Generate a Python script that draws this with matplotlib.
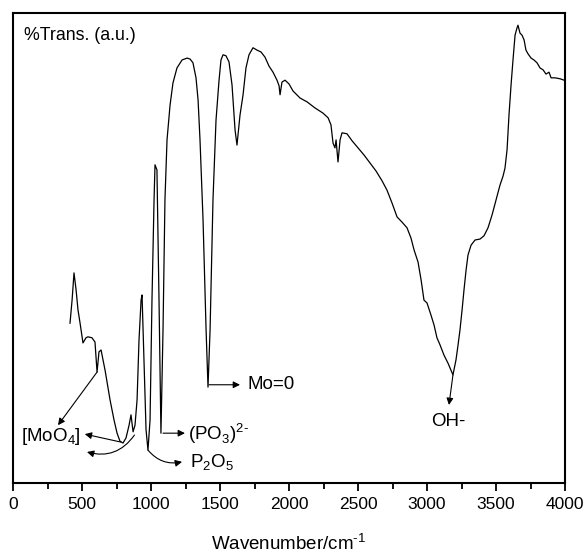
import numpy as np
import matplotlib.pyplot as plt
from matplotlib.ticker import MultipleLocator

# FTIR spectrum (wavenumber in cm-1, transmittance a.u.)
wavenumber = [
    413, 428, 442, 457, 471, 486, 507, 529, 543, 572, 594, 609, 623, 638, 667,
    703, 732, 754, 775, 797, 819, 841, 855, 870, 884, 899, 913, 928, 935, 949,
    964, 978, 993, 1007, 1022, 1029, 1043, 1058, 1072, 1087, 1101, 1116, 1138,
    1159, 1188, 1225, 1261, 1283, 1304, 1326, 1341, 1355, 1377, 1399, 1413,
    1428, 1449, 1471, 1493, 1507, 1522, 1543, 1565, 1587, 1609, 1623, 1645,
    1667, 1688, 1710, 1739, 1768, 1797, 1826, 1855, 1884, 1913, 1928, 1935,
    1949, 1971, 2000, 2029, 2080, 2130, 2188, 2246, 2283, 2304, 2319, 2333,
    2341, 2355, 2370, 2384, 2420, 2457, 2500, 2543, 2587, 2630, 2674, 2710,
    2746, 2783, 2819, 2855, 2884, 2906, 2935, 2957, 2978, 3000, 3029, 3051,
    3072, 3094, 3123, 3152, 3174, 3188, 3210, 3225, 3239, 3254, 3268, 3283,
    3297, 3319, 3348, 3384, 3413, 3442, 3471, 3500, 3529, 3551, 3565, 3580,
    3594, 3609, 3623, 3638, 3652, 3659, 3674, 3688, 3703, 3717, 3732, 3754,
    3775, 3797, 3819, 3841, 3862, 3884, 3899, 3928, 3964, 3993,
]
transmittance = [
    34.0, 38.9, 44.7, 41.1, 36.8, 34.0, 29.8, 30.9, 31.1, 30.9, 30.0, 23.6,
    27.9, 28.3, 24.0, 17.7, 13.4, 10.6, 8.9, 8.5, 9.6, 12.3, 14.5, 10.9, 12.3,
    17.7, 30.4, 38.9, 40.0, 26.2, 11.3, 7.0, 13.4, 38.9, 60.2, 67.7, 66.6,
    38.9, 10.6, 32.6, 60.2, 73.0, 80.4, 85.1, 88.3, 90.0, 90.4, 90.2, 89.4,
    86.2, 81.5, 73.0, 56.0, 32.6, 20.4, 32.6, 60.2, 77.2, 85.7, 90.0, 91.1,
    90.9, 89.6, 84.7, 75.1, 71.9, 78.3, 82.6, 88.3, 91.1, 92.6, 92.1, 91.7,
    90.6, 88.7, 87.4, 85.7, 84.5, 82.6, 85.3, 85.7, 84.9, 83.4, 81.9, 81.1,
    79.8, 78.7, 77.7, 76.2, 72.3, 71.3, 73.0, 68.3, 73.0, 74.5, 74.3, 72.8,
    71.3, 69.8, 68.1, 66.4, 64.3, 62.3, 59.6, 56.6, 55.5, 54.3, 52.1, 49.6,
    47.0, 43.2, 38.9, 38.3, 35.7, 33.6, 30.9, 29.4, 27.2, 25.5, 24.0, 23.0,
    26.2, 29.4, 32.6, 36.8, 41.1, 45.3, 48.5, 50.6, 51.7, 51.9, 52.6, 54.3,
    57.0, 60.2, 63.4, 65.3, 67.0, 70.9, 78.3, 84.7, 90.0, 95.3, 96.8, 97.4,
    95.7, 95.3, 94.3, 92.1, 91.3, 90.4, 90.0, 89.4, 88.3, 87.9, 87.0, 87.4,
    86.2, 86.2, 86.0, 85.7,
]

plt.rcParams['font.family'] = ['Liberation Sans', 'DejaVu Sans']
plt.rcParams['mathtext.fontset'] = 'custom'
plt.rcParams['mathtext.rm'] = 'Liberation Sans'

fig = plt.figure(figsize=(5.86, 5.52), dpi=100)
ax = fig.add_axes([0.0222, 0.125, 0.942, 0.8515])

ax.plot(wavenumber, transmittance, color='black', lw=0.9)

ax.set_xlim(0, 4000)
ax.set_ylim(0, 100)
ax.set_yticks([])
ax.xaxis.set_major_locator(MultipleLocator(500))
ax.xaxis.set_minor_locator(MultipleLocator(250))
ax.tick_params(axis='x', which='major', direction='out', length=6, width=1.3,
               labelsize=12.5, pad=4)
ax.tick_params(axis='x', which='minor', direction='out', length=4, width=1.3)
for sp in ax.spines.values():
    sp.set_linewidth(1.5)

ax.set_xlabel('Wavenumber/cm$^{\\mathrm{\u2010}1}$', fontsize=13.5, labelpad=15)
ax.text(0.02, 0.97, '%Trans. (a.u.)', transform=ax.transAxes, fontsize=12.8,
        va='top', ha='left')

arrow = dict(arrowstyle='-|>', color='black', lw=0.8, mutation_scale=10,
             shrinkA=0, shrinkB=0)
fs = 13.5

# [MoO4] bands
ax.annotate('', xy=(326, 12.3), xytext=(609, 23.6), arrowprops=arrow)
ax.annotate('', xy=(520, 10.4), xytext=(783, 8.7), arrowprops=arrow)
ax.annotate('', xy=(536, 6.6), xytext=(880, 10.2),
            arrowprops=dict(arrow, connectionstyle='arc3,rad=-0.35'))
ax.text(275, 9.8, '[MoO$_4$]', fontsize=fs, ha='center', va='center')

# P2O5
ax.annotate('', xy=(1225, 4.5), xytext=(978, 7.0),
            arrowprops=dict(arrow, connectionstyle='arc3,rad=0.3'))
ax.text(1280, 4.3, 'P$_2$O$_5$', fontsize=fs, ha='left', va='center')

# (PO3)2-
ax.annotate('', xy=(1246, 10.6), xytext=(1087, 10.6), arrowprops=arrow)
ax.text(1265, 10.6, '(PO$_3$)$^{\\mathrm{2\u2010}}$', fontsize=fs,
        ha='left', va='center')

# Mo=0
ax.annotate('', xy=(1645, 20.9), xytext=(1420, 20.9), arrowprops=arrow)
ax.text(1700, 20.9, 'Mo=0', fontsize=fs, ha='left', va='center')

# OH-
ax.annotate('', xy=(3159, 16.6), xytext=(3188, 23.0), arrowprops=arrow)
ax.text(3152, 13.0, 'OH-', fontsize=fs, ha='center', va='center')

fig.savefig('out.png', dpi=100)
